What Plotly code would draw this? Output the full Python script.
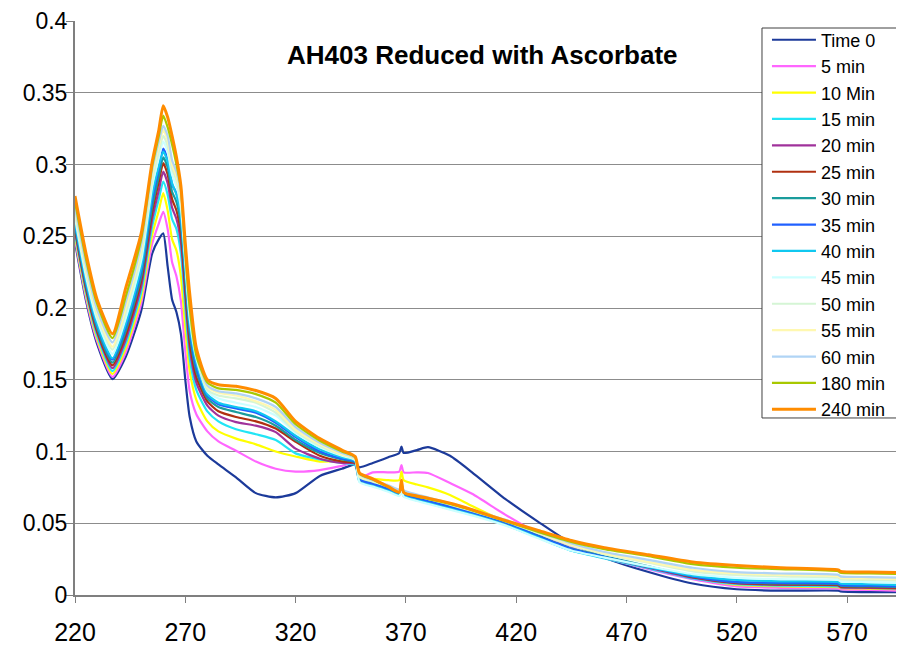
import plotly.graph_objects as go

# Wavelength (nm) sample points
wavelength = [220, 225, 230, 237, 243, 250, 255, 258, 260, 262, 264, 266, 268, 270, 272, 275,
              280, 285, 293, 302, 311, 320, 331, 341, 347, 349, 355, 362, 367, 368, 369, 375,
              380, 390, 400, 415, 430, 445, 460, 480, 500, 520, 540, 566, 567, 580, 596]

time_0 = [0.246, 0.205, 0.175, 0.1505, 0.166, 0.198, 0.238, 0.248, 0.252, 0.229, 0.206, 0.197, 0.182, 0.150, 0.124, 0.107,
          0.097, 0.091, 0.082, 0.071, 0.068, 0.071, 0.083, 0.088, 0.091, 0.089, 0.092, 0.096, 0.099, 0.1035, 0.099, 0.101,
          0.103, 0.097, 0.0855, 0.067, 0.051, 0.036, 0.026, 0.016, 0.008, 0.004, 0.003, 0.003, 0.0025, 0.002, 0.002]
min_5 = [0.248, 0.207, 0.177, 0.152, 0.169, 0.203, 0.245, 0.259, 0.267, 0.255, 0.232, 0.222, 0.205, 0.170, 0.142, 0.126,
         0.114, 0.107, 0.1005, 0.093, 0.088, 0.086, 0.087, 0.090, 0.092, 0.082, 0.0855, 0.0855, 0.086, 0.0905, 0.0855, 0.0855,
         0.085, 0.078, 0.0705, 0.056, 0.043, 0.033, 0.026, 0.018, 0.011, 0.006, 0.005, 0.0045, 0.004, 0.0035, 0.003]
min_10 = [0.250, 0.209, 0.179, 0.154, 0.172, 0.207, 0.251, 0.268, 0.280, 0.268, 0.248, 0.240, 0.222, 0.186, 0.156, 0.136,
          0.121, 0.114, 0.109, 0.105, 0.100, 0.0965, 0.093, 0.0935, 0.094, 0.082, 0.081, 0.080, 0.080, 0.086, 0.080, 0.077,
          0.075, 0.0697, 0.062, 0.051, 0.041, 0.032, 0.026, 0.019, 0.012, 0.007, 0.006, 0.0055, 0.005, 0.0045, 0.004]
min_15 = [0.252, 0.211, 0.181, 0.156, 0.175, 0.211, 0.257, 0.276, 0.288, 0.279, 0.262, 0.255, 0.238, 0.200, 0.165, 0.143,
          0.128, 0.121, 0.1155, 0.112, 0.108, 0.0987, 0.0945, 0.092, 0.0905, 0.0795, 0.077, 0.0735, 0.0705, 0.0735, 0.070, 0.067,
          0.065, 0.0605, 0.0565, 0.049, 0.040, 0.031, 0.0255, 0.0185, 0.0115, 0.0075, 0.0065, 0.006, 0.0055, 0.005, 0.0045]
min_20 = [0.254, 0.213, 0.183, 0.158, 0.178, 0.215, 0.262, 0.282, 0.295, 0.287, 0.270, 0.262, 0.246, 0.208, 0.172, 0.148,
          0.132, 0.125, 0.1205, 0.118, 0.1135, 0.102, 0.095, 0.092, 0.0915, 0.080, 0.0775, 0.074, 0.071, 0.074, 0.0705, 0.0675,
          0.0655, 0.0615, 0.0575, 0.050, 0.0405, 0.0315, 0.026, 0.019, 0.012, 0.008, 0.007, 0.0065, 0.0055, 0.005, 0.0045]
min_25 = [0.255, 0.214, 0.184, 0.160, 0.181, 0.219, 0.267, 0.288, 0.301, 0.293, 0.276, 0.268, 0.252, 0.214, 0.177, 0.152,
          0.135, 0.128, 0.124, 0.121, 0.116, 0.1068, 0.097, 0.093, 0.092, 0.0805, 0.078, 0.0745, 0.0715, 0.0745, 0.071, 0.068,
          0.066, 0.062, 0.058, 0.0505, 0.041, 0.032, 0.0265, 0.0195, 0.0125, 0.0085, 0.0075, 0.007, 0.006, 0.0055, 0.005]
min_30 = [0.257, 0.216, 0.186, 0.162, 0.184, 0.222, 0.271, 0.292, 0.305, 0.298, 0.281, 0.274, 0.258, 0.220, 0.182, 0.156,
          0.137, 0.131, 0.1275, 0.124, 0.118, 0.108, 0.099, 0.0945, 0.0925, 0.081, 0.0785, 0.075, 0.072, 0.075, 0.0715, 0.0685,
          0.0665, 0.0625, 0.0585, 0.051, 0.0415, 0.0325, 0.027, 0.020, 0.013, 0.009, 0.008, 0.0075, 0.0065, 0.006, 0.0055]
min_35 = [0.259, 0.218, 0.188, 0.164, 0.187, 0.226, 0.276, 0.297, 0.311, 0.303, 0.286, 0.280, 0.263, 0.225, 0.186, 0.159,
          0.139, 0.133, 0.130, 0.127, 0.120, 0.110, 0.100, 0.095, 0.093, 0.0805, 0.0775, 0.074, 0.071, 0.074, 0.0705, 0.0675,
          0.0655, 0.0615, 0.0575, 0.0505, 0.041, 0.032, 0.0265, 0.0195, 0.013, 0.009, 0.0085, 0.008, 0.007, 0.0065, 0.006]
min_40 = [0.260, 0.219, 0.189, 0.165, 0.189, 0.228, 0.279, 0.299, 0.309, 0.302, 0.287, 0.279, 0.264, 0.227, 0.189, 0.162,
          0.140, 0.134, 0.131, 0.128, 0.121, 0.111, 0.1015, 0.096, 0.0935, 0.079, 0.076, 0.0725, 0.0695, 0.0725, 0.069, 0.066,
          0.064, 0.060, 0.056, 0.049, 0.040, 0.031, 0.026, 0.0195, 0.0135, 0.0105, 0.0095, 0.009, 0.008, 0.0075, 0.007]
min_45 = [0.263, 0.222, 0.192, 0.168, 0.193, 0.233, 0.285, 0.305, 0.316, 0.309, 0.293, 0.285, 0.270, 0.232, 0.193, 0.165,
          0.142, 0.137, 0.134, 0.131, 0.125, 0.113, 0.103, 0.097, 0.094, 0.0785, 0.0755, 0.072, 0.069, 0.072, 0.0685, 0.0655,
          0.0635, 0.0595, 0.0555, 0.0485, 0.0395, 0.031, 0.026, 0.020, 0.0145, 0.012, 0.011, 0.0105, 0.0095, 0.009, 0.0085]
min_50 = [0.266, 0.225, 0.195, 0.171, 0.197, 0.237, 0.289, 0.309, 0.320, 0.313, 0.297, 0.289, 0.274, 0.235, 0.196, 0.167,
          0.143, 0.139, 0.137, 0.134, 0.127, 0.114, 0.104, 0.0975, 0.0945, 0.082, 0.079, 0.0755, 0.0725, 0.0755, 0.072, 0.069,
          0.067, 0.063, 0.0585, 0.0515, 0.043, 0.0345, 0.0285, 0.0225, 0.0165, 0.014, 0.013, 0.012, 0.011, 0.0105, 0.010]
min_55 = [0.268, 0.227, 0.197, 0.173, 0.200, 0.241, 0.293, 0.313, 0.324, 0.317, 0.300, 0.292, 0.277, 0.237, 0.198, 0.169,
          0.145, 0.141, 0.139, 0.135, 0.129, 0.115, 0.105, 0.098, 0.095, 0.083, 0.0795, 0.076, 0.073, 0.0765, 0.0725, 0.0695,
          0.0675, 0.0635, 0.059, 0.052, 0.0435, 0.035, 0.029, 0.023, 0.0175, 0.015, 0.014, 0.013, 0.012, 0.0115, 0.011]
min_60 = [0.270, 0.230, 0.199, 0.176, 0.204, 0.244, 0.296, 0.316, 0.327, 0.320, 0.303, 0.295, 0.280, 0.238, 0.200, 0.170,
          0.146, 0.142, 0.1405, 0.137, 0.131, 0.117, 0.106, 0.099, 0.0955, 0.084, 0.080, 0.0765, 0.0735, 0.077, 0.073, 0.070,
          0.068, 0.064, 0.0595, 0.0525, 0.044, 0.036, 0.030, 0.0245, 0.019, 0.016, 0.015, 0.014, 0.013, 0.0125, 0.012]
min_180 = [0.274, 0.234, 0.203, 0.179, 0.208, 0.248, 0.299, 0.320, 0.334, 0.326, 0.314, 0.300, 0.283, 0.238, 0.200, 0.167,
           0.148, 0.144, 0.143, 0.140, 0.134, 0.119, 0.1075, 0.100, 0.096, 0.0845, 0.0805, 0.075, 0.0715, 0.079, 0.0715, 0.0685,
           0.067, 0.0635, 0.059, 0.0515, 0.044, 0.037, 0.032, 0.027, 0.0215, 0.019, 0.018, 0.0165, 0.0155, 0.015, 0.0145]
min_240 = [0.278, 0.238, 0.206, 0.182, 0.214, 0.252, 0.302, 0.324, 0.341, 0.333, 0.320, 0.305, 0.285, 0.245, 0.210, 0.172,
           0.150, 0.1465, 0.1455, 0.1425, 0.137, 0.121, 0.109, 0.101, 0.0965, 0.085, 0.081, 0.0755, 0.0717, 0.080, 0.0715, 0.069,
           0.0675, 0.064, 0.0595, 0.052, 0.045, 0.038, 0.033, 0.028, 0.023, 0.0205, 0.019, 0.0175, 0.0165, 0.016, 0.0155]

series_names = ["Time 0", "5 min", "10 Min", "15 min", "20 min", "25 min", "30 min", "35 min",
                "40 min", "45 min", "50 min", "55 min", "60 min", "180 min", "240 min"]
series_values = [time_0, min_5, min_10, min_15, min_20, min_25, min_30, min_35,
                 min_40, min_45, min_50, min_55, min_60, min_180, min_240]
series_colors = ["#1c3a9a", "#ff66ff", "#ffff00", "#22e5f5", "#a0329b", "#b03010", "#1a9c9c", "#2060ff",
                 "#10c8f0", "#ccffff", "#d5f5d5", "#fff8b0", "#b0d4f5", "#a8c800", "#ff8c00"]

x_ticks = [220, 270, 320, 370, 420, 470, 520, 570]
y_ticks = [0, 0.05, 0.1, 0.15, 0.2, 0.25, 0.3, 0.35, 0.4]

FONT = "Liberation Sans, Arial, sans-serif"

fig = go.Figure()
for name, vals, color in zip(series_names, series_values, series_colors):
    fig.add_trace(go.Scatter(
        x=wavelength, y=vals, mode="lines", name=name, legendgroup=name,
        line=dict(color=color, width=3 if name == "240 min" else 2.2, shape="spline", smoothing=0.6),
    ))

# page body has an 8px margin, so the figure is 896x638 and sits at (8, 8)
fig.update_layout(
    width=896, height=638,
    margin=dict(l=67, r=0, t=13, b=51),
    paper_bgcolor="white", plot_bgcolor="white",
    font=dict(family=FONT, color="black"),
    showlegend=True,
    legend=dict(
        x=0.8347, y=0.999, xanchor="left", yanchor="top",
        bgcolor="rgba(0,0,0,0)", borderwidth=0,
        font=dict(family=FONT, size=18, color="black"),
        traceorder="grouped", tracegroupgap=0, itemwidth=44,
    ),
    # legend frame (white box with thin border) in the same place as the picture's
    shapes=[dict(
        type="rect", xref="paper", yref="paper", layer="above",
        x0=0.8287, x1=1.02, y0=0.3084, y1=0.9878,
        fillcolor="white", line=dict(color="#404040", width=1),
    )],
    xaxis=dict(
        range=[220, 595.8], tickvals=x_ticks, showgrid=False, zeroline=False,
        showline=True, linecolor="#7f7f7f", linewidth=2,
        ticks="outside", ticklen=6, tickcolor="#7f7f7f", tickwidth=1,
        ticklabelstandoff=8,
        tickfont=dict(family=FONT, size=25, color="black"),
    ),
    yaxis=dict(
        range=[0, 0.4], tickvals=y_ticks, showgrid=True, gridcolor="#8c8c8c", gridwidth=1,
        zeroline=False, showline=True, linecolor="#7f7f7f", linewidth=2,
        ticks="outside", ticklen=7, tickcolor="#7f7f7f", tickwidth=1,
        ticklabelstandoff=-6,
        tickfont=dict(family=FONT, size=23, color="black"),
    ),
    annotations=[dict(
        text="<b>AH403 Reduced with Ascorbate</b>", xref="paper", yref="paper",
        x=0.492, y=0.941, xanchor="center", yanchor="middle", showarrow=False,
        font=dict(family=FONT, size=26, color="black"),
    )],
)

fig.write_html("out.html")
